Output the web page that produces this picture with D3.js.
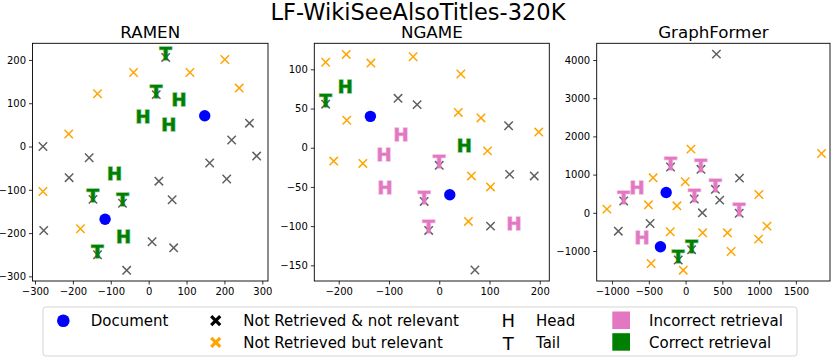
<!DOCTYPE html>
<html lang="en">
  <head>
    <meta charset="utf-8" />
    <title>LF-WikiSeeAlsoTitles-320K</title>
    <script src="https://d3js.org/d3.v7.min.js"></script>
    <style type="text/css">
      body {
        margin: 0;
        background: white;
      }
      text {
        font-family: "DejaVu Sans", sans-serif;
      }
    </style>
  </head>
  <body>
    <script type="text/javascript">
      // Data: [x, y] (and 1 = correct retrieval, 0 = incorrect)
      var ramenDocs = [[148, 71], [-115, -168]];
      var ramenNotRelevant = [
        [-279, 0], [-157, -26], [-210, -72], [-277, -194], [27, -80], [62, -123],
        [9, -220], [66, -234], [-58, -286], [161, -38], [206, -75], [219, 15],
        [266, 54], [285, -22]
      ];
      var ramenRelevant = [
        [-40, 171], [-135, 122], [109, 171], [201, 201], [239, 135], [-211, 29],
        [-279, -104], [-180, -190]
      ];
      var ramenHeads = [[-15, 69, 1], [80, 109, 1], [53, 51, 1], [-90, -63, 1], [-66, -208, 1]];
      var ramenTails = [[45, 214, 1], [20, 128, 1], [-147, -114, 1], [-69, -123, 1], [-135, -242, 1]];

      var ngameDocs = [[-137, 40], [21, -60]];
      var ngameNotRelevant = [
        [-82, 63], [-44, 55], [138, 28], [140, -34], [189, -36], [102, -100], [71, -156]
      ];
      var ngameRelevant = [
        [-226, 109], [-185, 119], [-136, 108], [-52, 116], [43, 94], [-184, 35],
        [38, 45], [83, 38], [198, 20], [96, -4], [-210, -17], [-152, -20],
        [64, -36], [102, -50], [58, -94]
      ];
      var ngameHeads = [[-187, 78, 1], [50, 3, 1], [-76, 17, 0], [-110, -9, 0], [-108, -51, 0], [149, -97, 0]];
      var ngameTails = [[-226, 60, 1], [0, -18, 0], [-30, -64, 0], [-21, -101, 0]];

      var gfDocs = [[-264, 532], [-342, -890]];
      var gfNotRelevant = [
        [419, 4154], [733, 908], [464, 332], [228, 0], [-483, -279], [-915, -480]
      ];
      var gfRelevant = [
        [73, 1667], [1849, 1553], [-442, 916], [-5, 812], [-505, 209], [-118, 183],
        [-1070, 96], [997, 480], [1107, -349], [993, -689], [-209, -497], [232, -524],
        [569, -524], [619, -1012], [-469, -1326], [-32, -1501]
      ];
      var gfHeads = [[-660, 654, 0], [-592, -646, 0]];
      var gfTails = [
        [-205, 1291, 0], [209, 1230, 0], [405, 707, 0], [118, 454, 0], [729, 79, 0],
        [-842, 401, 0], [82, -873, 1], [-100, -1143, 1]
      ];

      var ramenXTicks = [-300, -200, -100, 0, 100, 200, 300];
      var ramenYTicks = [-300, -200, -100, 0, 100, 200];
      var ngameXTicks = [-200, -100, 0, 100, 200];
      var ngameYTicks = [-150, -100, -50, 0, 50, 100];
      var gfXTicks = [-1000, -500, 0, 500, 1000, 1500];
      var gfYTicks = [-1000, 0, 1000, 2000, 3000, 4000];

      var legendLabels = [
        "Document", "Not Retrieved & not relevant", "Not Retrieved but relevant",
        "Head", "Tail", "Incorrect retrieval", "Correct retrieval"
      ];

      var colors = {
        doc: "#0000ff",
        notRel: "#606060",
        rel: "#ffa500",
        correct: "#008000",
        incorrect: "#e377c2"
      };

      var w = 831;
      var h = 357;
      var plotTop = 43.3;
      var plotBottom = 281;

      var panels = [
        {
          title: "RAMEN", left: 32.5, right: 268,
          xDomain: [-306.6, 315], yDomain: [-310.7, 238.5],
          xTicks: ramenXTicks, yTicks: ramenYTicks,
          docs: ramenDocs, notRel: ramenNotRelevant, rel: ramenRelevant,
          heads: ramenHeads, tails: ramenTails
        },
        {
          title: "NGAME", left: 314.3, right: 549.3,
          xDomain: [-248.6, 219], yDomain: [-170, 133.2],
          xTicks: ngameXTicks, yTicks: ngameYTicks,
          docs: ngameDocs, notRel: ngameNotRelevant, rel: ngameRelevant,
          heads: ngameHeads, tails: ngameTails
        },
        {
          title: "GraphFormer", left: 596.7, right: 830,
          xDomain: [-1209, 1964], yDomain: [-1785, 4437],
          xTicks: gfXTicks, yTicks: gfYTicks,
          docs: gfDocs, notRel: gfNotRelevant, rel: gfRelevant,
          heads: gfHeads, tails: gfTails
        }
      ];

      var svg = d3
        .select("body")
        .append("svg")
        .attr("width", w)
        .attr("height", h);

      // main title
      svg
        .append("text")
        .attr("x", 418)
        .attr("y", 19.5)
        .attr("text-anchor", "middle")
        .attr("font-size", "22.5px")
        .text("LF-WikiSeeAlsoTitles-320K");

      var fmt = function (d) {
        return d < 0 ? "\u2212" + Math.abs(d) : String(d);
      };

      var xPath = function (r) {
        return "M" + -r + "," + -r + "L" + r + "," + r + "M" + -r + "," + r + "L" + r + "," + -r;
      };

      panels.forEach(function (p) {
        var xScale = d3.scaleLinear().domain(p.xDomain).range([p.left, p.right]);
        var yScale = d3.scaleLinear().domain(p.yDomain).range([plotBottom, plotTop]);

        var g = svg.append("g");

        g.append("text")
          .attr("x", (p.left + p.right) / 2)
          .attr("y", 38)
          .attr("text-anchor", "middle")
          .attr("font-size", "16.7px")
          .text(p.title);

        var xAxis = d3.axisBottom(xScale).tickValues(p.xTicks).tickFormat(fmt).tickSize(3.5).tickPadding(3);
        var yAxis = d3.axisLeft(yScale).tickValues(p.yTicks).tickFormat(fmt).tickSize(3.5).tickPadding(3);

        var gx = g.append("g").attr("transform", "translate(0," + plotBottom + ")").call(xAxis);
        var gy = g.append("g").attr("transform", "translate(" + p.left + ",0)").call(yAxis);
        [gx, gy].forEach(function (a) {
          a.select(".domain").remove();
          a.selectAll("text").attr("font-size", "10px").attr("fill", "#000")
            .style("font-family", "DejaVu Sans");
          a.selectAll("line").attr("stroke", "#000").attr("stroke-width", 0.8);
        });

        // gray X (not retrieved & not relevant), also under each tail marker
        g.selectAll(".nr")
          .data(p.notRel)
          .enter()
          .append("path")
          .attr("d", xPath(4.2))
          .attr("transform", function (d) {
            return "translate(" + xScale(d[0]) + "," + yScale(d[1]) + ")";
          })
          .attr("stroke", colors.notRel)
          .attr("stroke-width", 1.5)
          .attr("fill", "none");

        g.selectAll(".nrt")
          .data(p.tails)
          .enter()
          .append("path")
          .attr("d", xPath(4.2))
          .attr("transform", function (d) {
            return "translate(" + xScale(d[0]) + "," + (yScale(d[1]) + 3.5) + ")";
          })
          .attr("stroke", colors.notRel)
          .attr("stroke-width", 1.5)
          .attr("fill", "none");

        // orange X (not retrieved but relevant)
        g.selectAll(".rel")
          .data(p.rel)
          .enter()
          .append("path")
          .attr("d", xPath(4.2))
          .attr("transform", function (d) {
            return "translate(" + xScale(d[0]) + "," + yScale(d[1]) + ")";
          })
          .attr("stroke", colors.rel)
          .attr("stroke-width", 1.5)
          .attr("fill", "none");

        // documents
        g.selectAll(".doc")
          .data(p.docs)
          .enter()
          .append("circle")
          .attr("cx", function (d) { return xScale(d[0]); })
          .attr("cy", function (d) { return yScale(d[1]); })
          .attr("r", 5.7)
          .attr("fill", colors.doc);

        // head / tail letters
        var letters = p.heads.map(function (d) { return { v: d, ch: "H" }; })
          .concat(p.tails.map(function (d) { return { v: d, ch: "T" }; }));
        g.selectAll(".ht")
          .data(letters)
          .enter()
          .append("text")
          .attr("x", function (d) { return xScale(d.v[0]); })
          .attr("y", function (d) { return yScale(d.v[1]) + 6.5; })
          .attr("text-anchor", "middle")
          .attr("font-size", "18px")
          .attr("font-weight", "bold")
          .attr("fill", function (d) { return d.v[2] ? colors.correct : colors.incorrect; })
          .attr("stroke", function (d) { return d.v[2] ? colors.correct : colors.incorrect; })
          .attr("stroke-opacity", 0.5)
          .attr("stroke-width", 1.4)
          .text(function (d) { return d.ch; });

        // frame
        g.append("rect")
          .attr("x", p.left)
          .attr("y", plotTop)
          .attr("width", p.right - p.left)
          .attr("height", plotBottom - plotTop)
          .attr("fill", "none")
          .attr("stroke", "#000")
          .attr("stroke-width", 0.9);
      });

      // Legend
      var lg = svg.append("g");
      lg.append("rect")
        .attr("x", 43)
        .attr("y", 307)
        .attr("width", 754)
        .attr("height", 49)
        .attr("rx", 3)
        .attr("fill", "white")
        .attr("stroke", "#d0d0d0")
        .attr("stroke-width", 0.9);

      var row1 = 320.7;
      var row2 = 342.3;
      var legText = function (x, y, s) {
        lg.append("text")
          .attr("x", x)
          .attr("y", y + 5.4)
          .attr("font-size", "15px")
          .text(s);
      };

      lg.append("circle").attr("cx", 63.3).attr("cy", row1).attr("r", 6.3).attr("fill", colors.doc);
      legText(90.7, row1, legendLabels[0]);

      lg.append("path").attr("d", xPath(4.5)).attr("transform", "translate(215.7," + row1 + ")")
        .attr("stroke", "#000").attr("stroke-width", 3.2);
      legText(243.3, row1, legendLabels[1]);
      lg.append("path").attr("d", xPath(4.5)).attr("transform", "translate(215.7," + row2 + ")")
        .attr("stroke", colors.rel).attr("stroke-width", 3.2);
      legText(243.3, row2, legendLabels[2]);

      lg.append("text").attr("x", 508.3).attr("y", row1 + 6.5).attr("text-anchor", "middle")
        .attr("font-size", "18px").text("H");
      legText(536, row1, legendLabels[3]);
      lg.append("text").attr("x", 508.3).attr("y", row2 + 7.5).attr("text-anchor", "middle")
        .attr("font-size", "18px").text("T");
      legText(536, row2, legendLabels[4]);

      lg.append("rect").attr("x", 612.3).attr("y", 311.5).attr("width", 17.7).attr("height", 17.5)
        .attr("fill", colors.incorrect);
      legText(649, row1, legendLabels[5]);
      lg.append("rect").attr("x", 612.3).attr("y", 333.2).attr("width", 17.7).attr("height", 17.5)
        .attr("fill", colors.correct);
      legText(649, row2, legendLabels[6]);
    </script>
  </body>
</html>
